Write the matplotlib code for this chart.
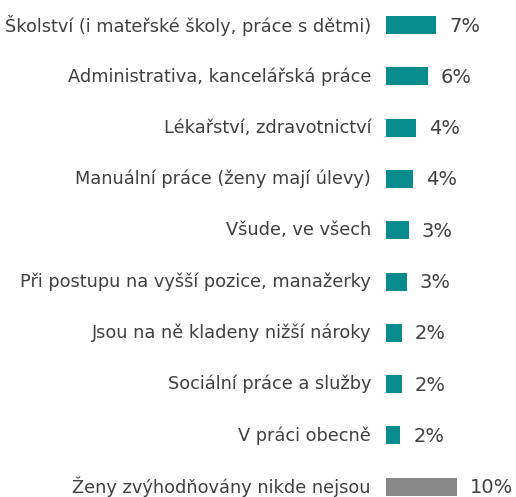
import matplotlib
matplotlib.use("Agg")
import matplotlib.pyplot as plt

categories = [
    "Školství (i mateřské školy, práce s dětmi)",
    "Administrativa, kancelářská práce",
    "Lékařství, zdravotnictví",
    "Manuální práce (ženy mají úlevy)",
    "Všude, ve všech",
    "Při postupu na vyšší pozice, manažerky",
    "Jsou na ně kladeny nižší nároky",
    "Sociální práce a služby",
    "V práci obecně",
    "Ženy zvýhodňovány nikde nejsou",
]
values = [7.0, 5.9, 4.2, 3.8, 3.2, 2.9, 2.2, 2.2, 2.0, 10.0]
value_labels = ["7%", "6%", "4%", "4%", "3%", "3%", "2%", "2%", "2%", "10%"]
colors = ["#078B8C"] * 9 + ["#878787"]

W, H = 516, 497
fig = plt.figure(figsize=(W / 100, H / 100), dpi=100)
ax_left = 386
px_per_unit = 7.13
ax = fig.add_axes([ax_left / W, 0, (W - ax_left) / W, 1])
ax.set_xlim(0, (W - ax_left) / px_per_unit)
step = 51.3
ax.set_ylim(9 + (H - 486.7) / step, -25 / step)
ax.axis("off")

ypos = list(range(len(categories)))
ax.barh(ypos, values, height=18 / step, color=colors, edgecolor="none")

text_color = "#404040"
label_x = -15 / px_per_unit
for y, cat in zip(ypos, categories):
    ax.text(label_x, y, cat, ha="right", va="center", fontsize=12.8,
            family="DejaVu Sans", color=text_color, clip_on=False)
gap = 13 / px_per_unit
for y, v, lab in zip(ypos, values, value_labels):
    ax.text(v + gap, y + 0.02, lab, ha="left", va="center", fontsize=14,
            family="DejaVu Sans", color=text_color, clip_on=False)

fig.savefig("out.png", dpi=100)
